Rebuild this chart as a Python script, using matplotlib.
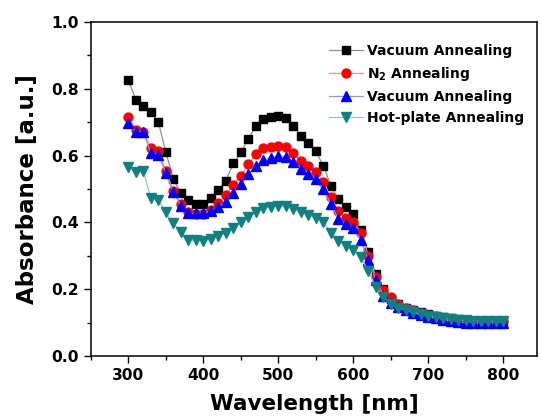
import numpy as np
import matplotlib
matplotlib.use("Agg")
import matplotlib.pyplot as plt
from matplotlib.ticker import MultipleLocator

plt.rcParams['font.family'] = ['DejaVu Sans']
plt.rcParams['font.weight'] = 'bold'

wavelength = np.arange(300, 801, 10)

vacuum1 = [0.825, 0.768, 0.750, 0.730, 0.700, 0.610, 0.530, 0.488, 0.466, 0.454,
           0.455, 0.473, 0.497, 0.525, 0.577, 0.610, 0.650, 0.689, 0.710, 0.717,
           0.720, 0.713, 0.690, 0.660, 0.637, 0.613, 0.569, 0.510, 0.469, 0.445,
           0.424, 0.379, 0.312, 0.245, 0.200, 0.172, 0.157, 0.145, 0.138, 0.132,
           0.126, 0.121, 0.117, 0.113, 0.110, 0.108, 0.106, 0.105, 0.105, 0.106,
           0.106]
n2 = [0.717, 0.677, 0.670, 0.624, 0.614, 0.554, 0.494, 0.455, 0.432, 0.424,
      0.424, 0.437, 0.457, 0.482, 0.513, 0.540, 0.574, 0.604, 0.622, 0.627,
      0.628, 0.625, 0.609, 0.585, 0.570, 0.552, 0.522, 0.475, 0.434, 0.414,
      0.401, 0.370, 0.300, 0.237, 0.198, 0.176, 0.155, 0.145, 0.137, 0.130,
      0.124, 0.119, 0.115, 0.111, 0.108, 0.106, 0.104, 0.103, 0.103, 0.104,
      0.104]
vacuum2 = [0.699, 0.672, 0.672, 0.607, 0.602, 0.549, 0.492, 0.450, 0.427, 0.427,
           0.427, 0.435, 0.447, 0.462, 0.487, 0.514, 0.545, 0.570, 0.587, 0.593,
           0.599, 0.595, 0.580, 0.559, 0.545, 0.530, 0.499, 0.455, 0.409, 0.394,
           0.384, 0.347, 0.287, 0.229, 0.180, 0.160, 0.147, 0.137, 0.130, 0.123,
           0.118, 0.113, 0.109, 0.105, 0.102, 0.100, 0.098, 0.098, 0.098, 0.098,
           0.098]
hotplate = [0.567, 0.550, 0.554, 0.472, 0.467, 0.430, 0.397, 0.372, 0.347, 0.347,
            0.345, 0.350, 0.359, 0.370, 0.385, 0.400, 0.417, 0.432, 0.442, 0.447,
            0.449, 0.449, 0.439, 0.431, 0.423, 0.414, 0.402, 0.370, 0.344, 0.329,
            0.319, 0.297, 0.254, 0.207, 0.178, 0.156, 0.145, 0.137, 0.131, 0.126,
            0.121, 0.117, 0.114, 0.111, 0.109, 0.107, 0.106, 0.105, 0.105, 0.105,
            0.105]

fig = plt.figure(figsize=(5.41, 4.19), dpi=100)
ax = fig.add_axes([0.168, 0.150, 0.825, 0.7975])

ax.plot(wavelength, vacuum1, color='#909090', lw=0.9, marker='s', ms=5.4,
        mfc='black', mec='black', label='Vacuum Annealing')
ax.plot(wavelength, n2, color='#ff9090', lw=0.9, marker='o', ms=6.4,
        mfc='red', mec='red', label='N$_2$ Annealing')
ax.plot(wavelength, vacuum2, color='#9090ff', lw=0.9, marker='^', ms=6.7,
        mfc='blue', mec='blue', label='Vacuum Annealing')
ax.plot(wavelength, hotplate, color='#90c8c8', lw=0.9, marker='v', ms=6.7,
        mfc='#108080', mec='#108080', label='Hot-plate Annealing')

ax.set_xlim(250, 845)
ax.set_ylim(0, 1.0)
ax.xaxis.set_major_locator(MultipleLocator(100))
ax.xaxis.set_minor_locator(MultipleLocator(50))
ax.yaxis.set_major_locator(MultipleLocator(0.2))
ax.yaxis.set_minor_locator(MultipleLocator(0.1))
ax.yaxis.set_major_formatter(matplotlib.ticker.FormatStrFormatter('%.1f'))
ax.tick_params(which='major', direction='out', length=5, width=1, labelsize=11.2)
ax.tick_params(which='minor', direction='out', length=3, width=1)
ax.tick_params(top=False, right=False, which='both')
for s in ax.spines.values():
    s.set_linewidth(1.1)

ax.set_xlabel('Wavelength [nm]', fontsize=15.5, fontweight='bold', labelpad=8)
ax.set_ylabel('Absorbance [a.u.]', fontsize=16.5, fontweight='bold', labelpad=9)

ax.legend(loc='upper left', bbox_to_anchor=(0.52, 0.95), frameon=False,
          fontsize=10, handlelength=2.5, handletextpad=0.3, labelspacing=0.5,
          borderaxespad=0)

fig.savefig('out.png', dpi=100)
